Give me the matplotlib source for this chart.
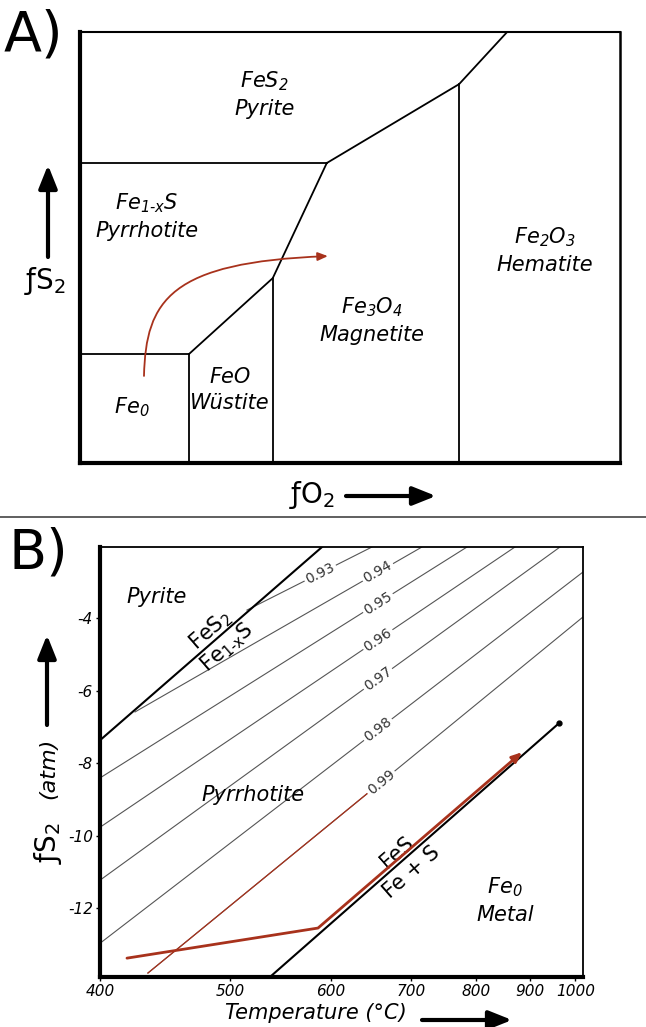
import matplotlib
matplotlib.use('Agg')
import matplotlib.pyplot as plt
import numpy as np
from matplotlib.path import Path
from matplotlib.patches import FancyArrowPatch
from matplotlib.lines import Line2D
from matplotlib.ticker import NullLocator

plt.rcParams['font.family'] = ['DejaVu Sans']
plt.rcParams['axes.unicode_minus'] = False
plt.rcParams['mathtext.default'] = 'regular'   # subscripts follow the text style

W, H = 646, 1027
RED = '#a8321c'

# --- A) schematic fO2 / fS2 stability fields (arbitrary units, 0-100) ---
py_po_x, py_po_y = [0, 45.7], [69.6, 69.6]                 # pyrite / pyrrhotite
py_ox_x, py_ox_y = [45.7, 70.2, 79.1], [69.6, 87.9, 100]   # pyrite / oxides
po_ox_x, po_ox_y = [20.2, 35.7, 45.7], [25.3, 42.9, 69.6]  # pyrrhotite / oxides
fe_po_x, fe_po_y = [0, 20.2], [25.3, 25.3]                 # iron / pyrrhotite
fe_wu_x, fe_wu_y = [20.2, 20.2], [0, 25.3]                 # iron / wustite
wu_mt_x, wu_mt_y = [35.7, 35.7], [0, 42.9]                 # wustite / magnetite
mt_hm_x, mt_hm_y = [70.2, 70.2], [0, 87.9]                 # magnetite / hematite

# reaction path, cubic bezier control points
path_a_x = [11.85, 12.2, 16.7, 45.9]
path_a_y = [20.2, 37.8, 46.6, 48.0]

# --- B) log fS2 vs temperature, pyrrhotite composition (N_FeS) ---
xfes_vals = ['0.93', '0.94', '0.95', '0.96', '0.97', '0.98', '0.99']
xfes_t0 = [514.8, 424.2, 400.0, 400.0, 400.0, 400.0, 433.6]
xfes_f0 = [-3.78, -6.59, -8.41, -9.77, -11.23, -12.97, -13.79]
xfes_t1 = [648.5, 715.6, 785.0, 870.5, 964.4, 1018.5, 1018.5]
xfes_f1 = [-2.04, -2.04, -2.04, -2.04, -2.04, -2.73, -3.97]
xfes_label_t = [588, 656, 656, 656, 656, 656, 660]

pyrite_t, pyrite_f = [400.0, 590.0], [-7.37, -2.04]
fes_t, fes_f = [538.4, 962.1], [-13.85, -6.90]
path_b_t = [418.5, 585.6, 884.2]
path_b_f = [-13.38, -12.55, -7.70]

t_ticks = [400, 500, 600, 700, 800, 900, 1000]
f_ticks = [-4, -6, -8, -10, -12]

FES2 = 'FeS$_2$'
PO = 'Fe$_{1‐x}$S'


def fpos(px, py):
    return (px / W, 1 - py / H)


def fig_arrow(p0, p1):
    arr = FancyArrowPatch(fpos(*p0), fpos(*p1), transform=fig.transFigure,
                          arrowstyle='-|>,head_length=0.7,head_width=0.28',
                          mutation_scale=20, lw=3, color='black',
                          shrinkA=0, shrinkB=0)
    fig.add_artist(arr)


fig = plt.figure(figsize=(W / 100, H / 100), dpi=100)

# ---------------- panel A ----------------
axa = fig.add_axes([80 / W, 1 - 463 / H, 540 / W, 431 / H])
axa.set_xlim(0, 100)
axa.set_ylim(0, 100)
axa.set_xticks([])
axa.set_yticks([])
axa.spines['left'].set_linewidth(3)
axa.spines['bottom'].set_linewidth(3)
axa.spines['top'].set_linewidth(1.5)
axa.spines['right'].set_linewidth(1.8)

for xs, ys in [(py_po_x, py_po_y), (py_ox_x, py_ox_y), (po_ox_x, po_ox_y),
               (fe_po_x, fe_po_y), (fe_wu_x, fe_wu_y), (wu_mt_x, wu_mt_y),
               (mt_hm_x, mt_hm_y)]:
    axa.plot(xs, ys, color='black', lw=1.3, solid_joinstyle='miter')

curve = Path(list(zip(path_a_x, path_a_y)),
             [Path.MOVETO, Path.CURVE4, Path.CURVE4, Path.CURVE4])
axa.add_patch(FancyArrowPatch(path=curve, arrowstyle='-|>,head_length=0.6,head_width=0.25',
                              mutation_scale=10, lw=1.3, color=RED, zorder=3))

lab = dict(ha='center', va='center', fontsize=15, style='italic', linespacing=1.35)
axa.text(34.1, 85.6, FES2 + '\nPyrite', **lab)
axa.text(12.4, 57.2, PO + '\nPyrrhotite', **lab)
axa.text(86.1, 49.4, 'Fe$_2$O$_3$\nHematite', **lab)
axa.text(54.1, 33.2, 'Fe$_3$O$_4$\nMagnetite', **lab)
axa.text(27.8, 16.9, 'FeO\nWüstite', **lab)
axa.text(9.6, 13.0, 'Fe$_0$', **lab)

fig.text(*fpos(4, 50), 'A)', fontsize=40, ha='left', va='baseline')
fig.text(*fpos(45, 281), 'ƒS$_2$', fontsize=20, ha='center', va='center')
fig_arrow((48, 257), (48, 165))
fig.text(*fpos(312, 495), 'ƒO$_2$', fontsize=20, ha='center', va='center')
fig_arrow((346, 496), (436, 496))

fig.add_artist(Line2D([0, 1], [1 - 517 / H] * 2, transform=fig.transFigure,
                      color='#444444', lw=1.2))

# ---------------- panel B ----------------
axb = fig.add_axes([100 / W, 1 - 977 / H, 483 / W, 430 / H])


def fwd(t):
    return -1000.0 / (np.asarray(t, dtype=float) + 273.15)


def inv(v):
    return -1000.0 / np.asarray(v, dtype=float) - 273.15


axb.set_xscale('function', functions=(fwd, inv))
axb.set_xlim(400, 1018.5)
axb.set_ylim(-13.9, -2.04)
axb.set_xticks(t_ticks)
axb.set_xticklabels([str(t) for t in t_ticks])
axb.xaxis.set_minor_locator(NullLocator())
axb.set_yticks(f_ticks)
axb.set_yticklabels([str(f) for f in f_ticks])
axb.tick_params(direction='out', length=3, width=1, pad=2, labelsize=11)
for tl in axb.get_xticklabels() + axb.get_yticklabels():
    tl.set_fontstyle('italic')
axb.spines['left'].set_linewidth(3)
axb.spines['bottom'].set_linewidth(3)
axb.spines['top'].set_linewidth(1.3)
axb.spines['right'].set_linewidth(1.3)

for t0, f0, t1, f1 in zip(xfes_t0, xfes_f0, xfes_t1, xfes_f1):
    axb.plot([t0, t1], [f0, f1], color='#555555', lw=0.8)


def point_on(t0, f0, t1, f1, t):
    # point on a boundary line at temperature t, plus its on-screen angle
    p0 = axb.transData.transform((t0, f0))
    p1 = axb.transData.transform((t1, f1))
    px = axb.transData.transform((t, f0))[0]
    py = p0[1] + (p1[1] - p0[1]) * (px - p0[0]) / (p1[0] - p0[0])
    ang = np.degrees(np.arctan2(p1[1] - p0[1], p1[0] - p0[0]))
    return axb.transData.inverted().transform((px, py)), ang


for i, val in enumerate(xfes_vals):
    (lt, lf), ang = point_on(xfes_t0[i], xfes_f0[i], xfes_t1[i], xfes_f1[i],
                             xfes_label_t[i])
    if val == '0.99':
        axb.plot([xfes_t0[i], lt], [xfes_f0[i], lf], color=RED, lw=0.9, zorder=3)
    axb.text(lt, lf, val, rotation=ang, fontsize=10, color='#333333',
             ha='center', va='center', rotation_mode='anchor', zorder=5,
             bbox=dict(fc='white', ec='none', pad=1.5))

axb.plot(pyrite_t, pyrite_f, color='black', lw=1.5)
axb.plot(fes_t, fes_f, color='black', lw=1.5)
axb.plot(fes_t[1], fes_f[1], 'o', color='black', ms=3.5)

path_b = Path(list(zip(path_b_t, path_b_f)), [Path.MOVETO, Path.LINETO, Path.LINETO])
axb.add_patch(FancyArrowPatch(path=path_b, arrowstyle='-|>,head_length=0.6,head_width=0.25',
                              mutation_scale=10, lw=2, color=RED, zorder=4,
                              transform=axb.transData))

_, ang_py = point_on(pyrite_t[0], pyrite_f[0], pyrite_t[1], pyrite_f[1], 480)
_, ang_fes = point_on(fes_t[0], fes_f[0], fes_t[1], fes_f[1], 700)
axb.text(482.4, -4.33, FES2, rotation=ang_py, fontsize=15, ha='center', va='center')
axb.text(497.0, -4.80, PO, rotation=ang_py, fontsize=15, ha='center', va='center')
axb.text(680.9, -10.45, 'FeS', rotation=ang_fes, fontsize=15, ha='center', va='center')
axb.text(701.5, -11.0, 'Fe + S', rotation=ang_fes, fontsize=15, ha='center', va='center')
axb.text(440.3, -3.42, 'Pyrite', **lab)
axb.text(520.4, -8.88, 'Pyrrhotite', **lab)
axb.text(851.6, -11.79, 'Fe$_0$\nMetal', **lab)

fig.text(*fpos(8, 568), 'B)', fontsize=40, ha='left', va='baseline')
fig.text(*fpos(48, 843), 'ƒS$_2$', fontsize=20, rotation=90, ha='center', va='center')
fig.text(*fpos(48, 768), '(atm)', fontsize=16, style='italic', rotation=90,
         ha='center', va='center')
fig_arrow((47, 725), (47, 635))
fig.text(*fpos(316, 1013), 'Temperature (°C)', fontsize=15, style='italic',
         ha='center', va='center')
fig_arrow((422, 1020), (512, 1020))

fig.savefig('out.png', dpi=100)
